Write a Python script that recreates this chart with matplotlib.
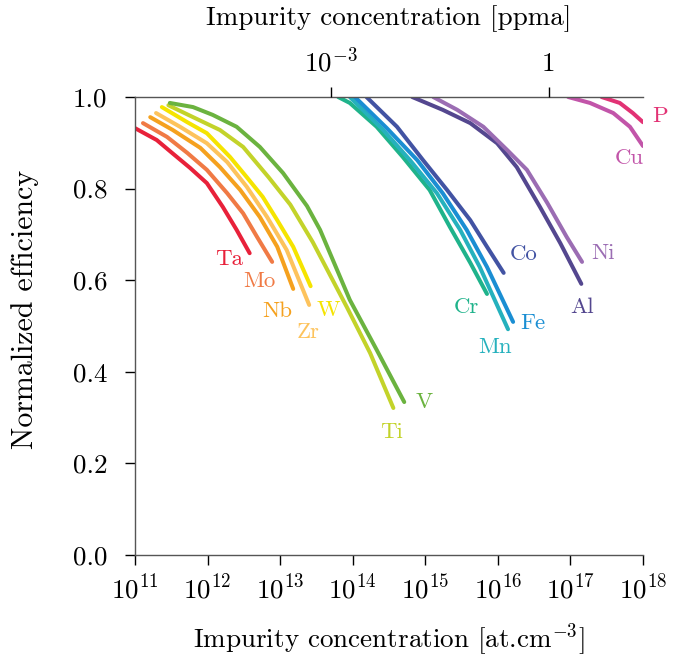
import matplotlib
matplotlib.use("Agg")
import matplotlib.pyplot as plt
import numpy as np

plt.rcParams['font.family'] = 'cmr10'
plt.rcParams['mathtext.fontset'] = 'cm'
plt.rcParams['axes.unicode_minus'] = False
plt.rcParams['axes.formatter.use_mathtext'] = True

# silicon atomic density: 1 ppma = 5e16 at.cm-3
PPMA = 5e16

# log10(concentration) and normalized efficiency
ta_x = [11.00, 11.30, 11.51, 11.76, 11.99, 12.21, 12.40, 12.58]
ta_y = [0.932, 0.906, 0.878, 0.845, 0.812, 0.760, 0.710, 0.659]
mo_x = [11.11, 11.44, 11.72, 11.99, 12.27, 12.49, 12.68, 12.89]
mo_y = [0.943, 0.913, 0.878, 0.841, 0.790, 0.746, 0.695, 0.640]
nb_x = [11.21, 11.52, 11.90, 12.17, 12.45, 12.72, 12.96, 13.18]
nb_y = [0.956, 0.928, 0.889, 0.847, 0.797, 0.738, 0.673, 0.581]
zr_x = [11.29, 11.62, 11.99, 12.27, 12.54, 12.82, 13.09, 13.40]
zr_y = [0.965, 0.935, 0.899, 0.858, 0.804, 0.738, 0.666, 0.546]
w_x = [11.37, 11.72, 11.99, 12.31, 12.54, 12.76, 12.96, 13.18, 13.42]
w_y = [0.978, 0.945, 0.921, 0.869, 0.825, 0.782, 0.731, 0.673, 0.587]
ti_x = [11.46, 11.80, 12.17, 12.49, 12.84, 13.14, 13.45, 13.92, 14.24, 14.56]
ti_y = [0.982, 0.956, 0.928, 0.891, 0.825, 0.765, 0.683, 0.541, 0.441, 0.321]
v_x = [11.48, 11.80, 12.07, 12.40, 12.72, 13.04, 13.37, 13.55, 13.96, 14.33, 14.71]
v_y = [0.987, 0.978, 0.961, 0.935, 0.891, 0.834, 0.762, 0.710, 0.557, 0.448, 0.334]
cr_x = [13.80, 13.96, 14.33, 14.69, 15.06, 15.34, 15.62, 15.85]
cr_y = [1.000, 0.987, 0.935, 0.869, 0.797, 0.716, 0.638, 0.570]
mn_x = [13.96, 14.42, 14.79, 15.16, 15.48, 15.75, 16.14]
mn_y = [1.000, 0.928, 0.862, 0.790, 0.710, 0.629, 0.493]
fe_x = [14.03, 14.47, 14.89, 15.24, 15.57, 15.85, 16.21]
fe_y = [1.000, 0.932, 0.862, 0.790, 0.710, 0.629, 0.509]
co_x = [14.19, 14.61, 14.97, 15.30, 15.62, 15.85, 16.08]
co_y = [1.000, 0.935, 0.862, 0.797, 0.731, 0.673, 0.616]
al_x = [14.82, 15.24, 15.62, 15.99, 16.26, 16.58, 16.86, 17.15]
al_y = [1.000, 0.972, 0.943, 0.899, 0.847, 0.760, 0.681, 0.592]
ni_x = [15.11, 15.44, 15.80, 16.13, 16.40, 16.68, 16.95, 17.16]
ni_y = [1.000, 0.972, 0.935, 0.884, 0.841, 0.769, 0.694, 0.640]
cu_x = [16.97, 17.27, 17.59, 17.82, 18.00]
cu_y = [1.000, 0.987, 0.965, 0.935, 0.893]
p_x = [17.43, 17.68, 17.86, 18.00]
p_y = [1.000, 0.987, 0.965, 0.945]

# element, x, y, colour, label position (log10 x, y)
series = [
    ('Ta', ta_x, ta_y, '#e8213a', (12.29, 0.645)),
    ('Mo', mo_x, mo_y, '#f07a45', (12.71, 0.597)),
    ('Nb', nb_x, nb_y, '#f5a11e', (12.96, 0.532)),
    ('Zr', zr_x, zr_y, '#fdc35c', (13.38, 0.487)),
    ('W', w_x, w_y, '#f5e400', (13.66, 0.535)),
    ('Ti', ti_x, ti_y, '#c3d32a', (14.54, 0.267)),
    ('V', v_x, v_y, '#6bb33f', (14.99, 0.334)),
    ('Cr', cr_x, cr_y, '#1fb38b', (15.57, 0.542)),
    ('Mn', mn_x, mn_y, '#25b1bd', (15.96, 0.454)),
    ('Fe', fe_x, fe_y, '#1a8ed3', (16.48, 0.507)),
    ('Co', co_x, co_y, '#4253a3', (16.35, 0.657)),
    ('Al', al_x, al_y, '#54478f', (17.16, 0.542)),
    ('Ni', ni_x, ni_y, '#9b6db3', (17.45, 0.659)),
    ('Cu', cu_x, cu_y, '#c255a9', (17.81, 0.867)),
    ('P', p_x, p_y, '#e23274', (18.24, 0.958)),
]

fig = plt.figure(figsize=(6.75, 6.59), dpi=100)
ax = fig.add_axes([0.2, 0.1578, 0.7526, 0.695])

for name, xs, ys, color, (lx, ly) in series:
    ax.plot(10 ** np.array(xs), ys, color=color, lw=2.9,
            solid_capstyle='round', solid_joinstyle='round')
    ax.text(10 ** lx, ly, name, color=color, fontsize=16.5,
            ha='center', va='center', clip_on=False)

ax.set_xscale('log')
ax.set_xlim(1e11, 1e18)
ax.set_ylim(0, 1)
ax.set_xticks([10.0 ** k for k in range(11, 19)])
ax.xaxis.set_minor_locator(matplotlib.ticker.NullLocator())
ax.set_yticks([0, 0.2, 0.4, 0.6, 0.8, 1.0])
ax.set_yticklabels(['0.0', '0.2', '0.4', '0.6', '0.8', '1.0'])
ax.tick_params(labelsize=19.5, direction='out', length=7, width=1)
ax.tick_params(axis='y', pad=13)
ax.tick_params(axis='x', pad=7)

ax.spines['right'].set_visible(False)
for side in ['left', 'bottom', 'top']:
    ax.spines[side].set_color('#555555')
    ax.spines[side].set_linewidth(1.0)

ax.set_xlabel('Impurity concentration [at.cm$^{-3}$]', fontsize=19.5, labelpad=12)
ax.set_ylabel('Normalized efficiency', fontsize=21.5)
ax.yaxis.set_label_coords(-0.189, 0.537)

top = ax.twiny()
top.set_xscale('log')
top.set_xlim(ax.get_xlim())
top.set_xticks([1e-3 * PPMA, 1 * PPMA])
top.set_xticklabels(['$10^{-3}$', '1'])
top.xaxis.set_minor_locator(matplotlib.ticker.NullLocator())
top.tick_params(labelsize=19.5, direction='out', length=7, width=1, pad=8)
for side in ['left', 'right', 'bottom', 'top']:
    top.spines[side].set_visible(False)
top.set_xlabel('Impurity concentration [ppma]', fontsize=19.5, labelpad=15)

fig.savefig('out.png', dpi=100)
